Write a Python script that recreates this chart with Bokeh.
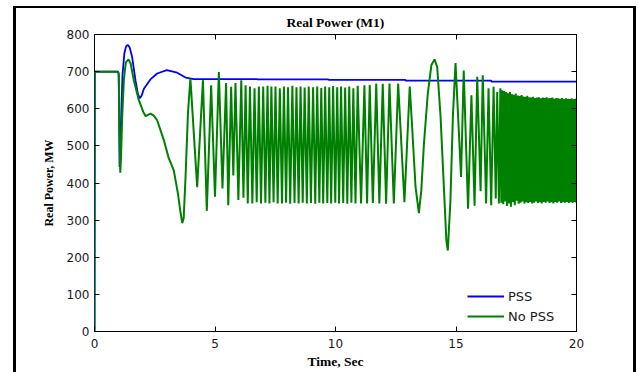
from bokeh.plotting import figure
from bokeh.models import Range1d, LinearAxis, FixedTicker, Legend, LegendItem
from bokeh.embed import file_html
from bokeh.resources import INLINE

# ---------------- data ----------------
x_ticks = [0, 5, 10, 15, 20]
y_ticks = [0, 100, 200, 300, 400, 500, 600, 700, 800]

# PSS (blue)
pss_t = [0, 0.01, 0.98, 1.00, 1.02, 1.04, 1.07, 1.10, 1.16, 1.24, 1.31, 1.38, 1.46,
         1.56, 1.70, 1.80, 1.88, 1.96, 2.05, 2.32, 2.60, 3.00, 3.43, 3.78, 4.12,
         6.75, 6.76, 9.70, 9.71, 12.90, 12.91, 16.46, 16.47, 20.0]
pss_v = [0, 700, 700, 695, 600, 443, 470, 560, 690, 750, 768, 772, 765,
         740, 677, 640, 628, 636, 654, 679, 695, 704, 697, 684, 680,
         680, 679, 679, 678, 678, 676, 676, 673, 673]

# No PSS (green) - initial transient
nopss_t1 = [0, 0.01, 0.98, 1.01, 1.04, 1.07, 1.10, 1.15, 1.22, 1.30, 1.41, 1.50,
            1.63, 1.84, 2.02, 2.12, 2.32, 2.45, 2.60, 2.88, 3.07, 3.29, 3.46,
            3.56, 3.64, 3.70, 3.78, 3.88]
nopss_v1 = [0, 700, 700, 690, 520, 428, 470, 580, 680, 725, 733, 722,
            677, 623, 592, 580, 587, 582, 569, 515, 469, 434, 372,
            325, 292, 305, 420, 590]

# No PSS - oscillation peaks and troughs 4 s .. 13 s
nopss_t2 = [3.98, 4.26, 4.50, 4.66, 4.84, 5.00, 5.16, 5.31, 5.46, 5.55, 5.67, 5.76,
            5.85, 5.97, 6.09, 6.18, 6.27, 6.36, 6.45, 6.55, 6.64, 6.73, 6.82, 6.91,
            7.00, 7.09, 7.18, 7.26, 7.34, 7.43, 7.51, 7.60, 7.69, 7.78, 7.86, 7.95,
            8.03, 8.12, 8.21, 8.30, 8.38, 8.47, 8.55, 8.64, 8.72, 8.81, 8.89, 8.98,
            9.07, 9.16, 9.24, 9.33, 9.41, 9.49, 9.57, 9.66, 9.74, 9.82, 9.90, 9.99,
            10.07, 10.15, 10.23, 10.32, 10.40, 10.49, 10.57, 10.66, 10.74, 10.83,
            10.92, 11.06, 11.20, 11.31, 11.42, 11.55, 11.69, 11.82, 11.96, 12.10,
            12.24, 12.42, 12.60, 12.86, 13.08]
nopss_v2 = [681, 389, 677, 325, 663, 363, 699, 385, 669, 340, 659, 420,
            669, 354, 677, 360, 663, 345, 660, 345, 655, 348, 660, 345,
            660, 347, 662, 345, 660, 348, 660, 345, 655, 345, 660, 347,
            658, 344, 662, 346, 658, 345, 660, 347, 657, 345, 660, 346,
            658, 344, 660, 347, 656, 345, 660, 346, 658, 345, 661, 347,
            658, 345, 660, 346, 657, 344, 660, 347, 655, 345,
            662, 345, 663, 345, 664, 346, 668, 345, 667, 344,
            668, 345, 668, 348, 660]

# No PSS - slow swing 13 s .. 16.8 s
nopss_t3 = [13.18, 13.32, 13.46, 13.56, 13.67, 13.83, 13.98, 14.11, 14.22, 14.36,
            14.49, 14.60, 14.66, 14.77, 14.87, 14.98, 15.21, 15.32, 15.50, 15.64,
            15.77, 15.88, 16.02, 16.11, 16.25, 16.35, 16.46, 16.56, 16.65, 16.71,
            16.78]
nopss_v3 = [551, 390, 319, 380, 506, 641, 718, 733, 712, 578,
            399, 245, 218, 354, 578, 723, 416, 703, 331, 636,
            339, 686, 378, 690, 345, 655, 340, 659, 358, 645,
            345]

# No PSS - dense oscillation 16.8 s .. 20 s
nopss_t4 = [16.84, 16.88, 16.92, 16.96, 17.00, 17.04, 17.08, 17.12, 17.16, 17.20,
            17.24, 17.28, 17.32, 17.36, 17.40, 17.44, 17.48, 17.52, 17.56, 17.60,
            17.64, 17.68, 17.72, 17.76, 17.80, 17.84, 17.88, 17.92, 17.96, 18.00,
            18.04, 18.08, 18.12, 18.16, 18.20, 18.24, 18.28, 18.32, 18.36, 18.40,
            18.44, 18.48, 18.52, 18.56, 18.60, 18.64, 18.68, 18.72, 18.76, 18.80,
            18.84, 18.88, 18.92, 18.96, 19.00, 19.04, 19.08, 19.12, 19.16, 19.20,
            19.24, 19.28, 19.32, 19.36, 19.40, 19.44, 19.48, 19.52, 19.56, 19.60,
            19.64, 19.68, 19.72, 19.76, 19.80, 19.84, 19.88, 19.92, 19.96, 20.00]
nopss_v4 = [655, 347, 650, 343, 648, 350, 645, 338, 642, 345,
            645, 336, 640, 348, 638, 340, 641, 352, 636, 344,
            634, 347, 637, 350, 633, 345, 632, 348, 635, 346,
            631, 349, 630, 345, 632, 347, 629, 350, 630, 346,
            631, 348, 628, 345, 630, 349, 629, 347, 631, 350,
            628, 346, 629, 348, 630, 345, 627, 349, 629, 347,
            628, 350, 627, 346, 629, 348, 626, 347, 628, 349,
            627, 346, 626, 348, 628, 347, 626, 349, 627, 347]

nopss_t = nopss_t1 + nopss_t2 + nopss_t3 + nopss_t4
nopss_v = nopss_v1 + nopss_v2 + nopss_v3 + nopss_v4

# ---------------- figure ----------------
p = figure(width=617, height=364, output_backend="svg", toolbar_location=None,
           x_range=Range1d(0, 20), y_range=Range1d(0, 800),
           min_border_left=78, min_border_right=57, min_border_top=26,
           min_border_bottom=41, title="Real Power (M1)")
# outer picture frame (open at the bottom), drawn as shadows so sizes stay unchanged
p.styles = {"margin-left": "16px", "margin-top": "8px",
            "box-shadow": "-3px 0 0 0 #000, 3px 0 0 0 #000, 0 -2px 0 0 #000, "
                          "-3px -2px 0 0 #000, 3px -2px 0 0 #000"}

p.background_fill_color = "white"
p.border_fill_color = "white"
p.outline_line_color = "black"
p.outline_line_width = 1
p.grid.visible = False

p.title.text_font = "Liberation Serif"
p.title.text_font_style = "bold"
p.title.text_font_size = "13.5px"
p.title.align = "center"
p.title.text_color = "black"
p.title.standoff = 9

for ax in (p.xaxis[0], p.yaxis[0]):
    ax.major_tick_in = 5
    ax.major_tick_out = 0
    ax.minor_tick_line_color = None
    ax.axis_line_color = "black"
    ax.major_tick_line_color = "black"
    ax.major_label_text_font = "DejaVu Sans"
    ax.major_label_text_font_size = "12px"
    ax.major_label_text_color = "#1a1a1a"
    ax.axis_label_text_font = "Liberation Serif"
    ax.axis_label_text_font_style = "bold"
    ax.axis_label_text_color = "black"
# the left edge is drawn by the frame outline, so the green trace can lie over it
p.yaxis.axis_line_color = None

p.xaxis.ticker = FixedTicker(ticks=x_ticks)
p.yaxis.ticker = FixedTicker(ticks=y_ticks)
p.xaxis.axis_label = "Time, Sec"
p.xaxis.axis_label_text_font_size = "13.5px"
p.xaxis.major_label_standoff = 7
p.xaxis.axis_label_standoff = 3
p.yaxis.axis_label = "Real Power, MW"
p.yaxis.axis_label_text_font_size = "12px"
p.yaxis.major_label_standoff = 5
p.yaxis.axis_label_standoff = 8

top = LinearAxis(ticker=FixedTicker(ticks=x_ticks), major_label_text_font_size="1px",
                 major_label_text_color=None,
                 major_tick_in=5, major_tick_out=0, minor_tick_line_color=None,
                 major_label_standoff=0)
right = LinearAxis(ticker=FixedTicker(ticks=y_ticks), major_label_text_font_size="1px",
                   major_label_text_color=None,
                   major_tick_in=5, major_tick_out=0, minor_tick_line_color=None,
                   major_label_standoff=0)
p.add_layout(top, "above")
p.add_layout(right, "right")

rb = p.line(pss_t, pss_v, line_color="#0000ff", line_width=1.8)
rg = p.line(nopss_t, nopss_v, line_color="#008000", line_width=2.0)

legend = Legend(items=[LegendItem(label="PSS", renderers=[rb]),
                       LegendItem(label="No PSS", renderers=[rg])],
                location=(373, 5), padding=0, margin=0, spacing=0,
                glyph_width=37, glyph_height=20, label_standoff=4,
                border_line_color=None, background_fill_alpha=0,
                label_text_font="DejaVu Sans", label_text_font_size="13px",
                label_text_color="#1a1a1a")
p.add_layout(legend)

open("out.html", "w").write(file_html(p, INLINE))
